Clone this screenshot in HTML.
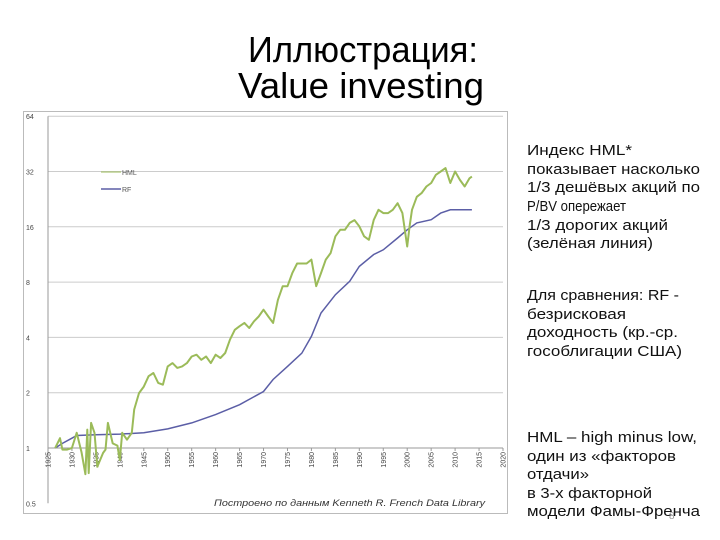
<!DOCTYPE html>
<html><head><meta charset="utf-8"><style>
html,body{margin:0;padding:0;background:#fff;}
svg{display:block;font-family:"Liberation Sans","Noto Sans CJK SC",sans-serif;}
</style></head><body>
<svg id="s" width="720" height="540" viewBox="0 0 720 540">
<g font-size="36" fill="#000" text-anchor="start">
<text x="248" y="62" textLength="230" lengthAdjust="spacingAndGlyphs">Иллюстрация:</text>
<text x="238" y="98" textLength="246" lengthAdjust="spacingAndGlyphs">Value investing</text>
</g>
<rect x="23.5" y="111.5" width="484" height="402" fill="#fff" stroke="#bbb"/>
<g id="grid"></g>
<g id="yt" font-size="7" fill="#444"></g>
<g id="xt" font-size="7" fill="#444"></g>
<g id="lines"></g>
<g font-size="7" fill="#555">
<line x1="101" y1="172" x2="121" y2="172" stroke="#9bbb59" stroke-width="1"/>
<text x="122" y="175">HML</text>
<line x1="101" y1="189" x2="121" y2="189" stroke="#5b5ea6" stroke-width="1.5"/>
<text x="122" y="192">RF</text>
</g>
<text x="485" y="506" font-size="9" font-style="italic" fill="#333" text-anchor="end" textLength="271" lengthAdjust="spacingAndGlyphs">Построено по данным Kenneth R. French Data Library</text>
<g font-size="15" fill="#111">
<text x="527" y="155" textLength="105" lengthAdjust="spacingAndGlyphs">Индекс HML*</text>
<text x="527" y="174" textLength="173" lengthAdjust="spacingAndGlyphs">показывает насколько</text>
<text x="527" y="192" textLength="173" lengthAdjust="spacingAndGlyphs">1/3 дешёвых акций по</text>
<text x="527" y="211" textLength="99" lengthAdjust="spacingAndGlyphs">P/BV опережает</text>
<text x="527" y="230" textLength="141" lengthAdjust="spacingAndGlyphs">1/3 дорогих акций</text>
<text x="527" y="248" textLength="126" lengthAdjust="spacingAndGlyphs">(зелёная линия)</text>
<text x="527" y="300" textLength="152" lengthAdjust="spacingAndGlyphs">Для сравнения: RF -</text>
<text x="527" y="319" textLength="99" lengthAdjust="spacingAndGlyphs">безрисковая</text>
<text x="527" y="337" textLength="151" lengthAdjust="spacingAndGlyphs">доходность (кр.-ср.</text>
<text x="527" y="356" textLength="155" lengthAdjust="spacingAndGlyphs">гособлигации США)</text>
<text x="527" y="442" textLength="170" lengthAdjust="spacingAndGlyphs">HML – high minus low,</text>
<text x="527" y="461" textLength="149" lengthAdjust="spacingAndGlyphs">один из «факторов</text>
<text x="527" y="479" textLength="62" lengthAdjust="spacingAndGlyphs">отдачи»</text>
<text x="527" y="498" textLength="125" lengthAdjust="spacingAndGlyphs">в 3-х факторной</text>
<text x="527" y="516" textLength="173" lengthAdjust="spacingAndGlyphs">модели Фамы-Френча</text>
</g>
<text x="669" y="519" font-size="10" fill="#999">8</text>
</svg>
<script>
const yTicks=[0.5,1,2,4,8,16,32,64];
const yTickLabels=["0.5","1","2","4","8","16","32","64"];
const xTicks=[1925,1930,1935,1940,1945,1950,1955,1960,1965,1970,1975,1980,1985,1990,1995,2000,2005,2010,2015,2020];
const hmlYears=[1926.5,1927.5,1928,1929,1930,1931,1932,1932.8,1933.2,1933.5,1934,1934.7,1935.3,1936.5,1937,1937.5,1938.5,1939.5,1940,1940.5,1941.5,1942.5,1943,1944,1945,1946,1947,1948,1949,1950,1951,1952,1953,1954,1955,1956,1957,1958,1959,1960,1961,1962,1963,1964,1965,1966,1967,1968,1969,1970,1971,1972,1973,1974,1975,1976,1977,1978,1979,1980,1981,1982,1983,1984,1985,1986,1987,1988,1989,1990,1991,1992,1993,1994,1995,1996,1997,1998,1999,2000,2000.5,2001,2002,2003,2004,2005,2006,2007,2008,2009,2010,2011,2012,2013,2013.5];
const hmlValues=[1.0,1.13,0.98,0.98,1.0,1.21,0.95,0.72,1.26,0.73,1.37,1.21,0.79,0.94,0.98,1.37,1.06,1.03,0.86,1.21,1.11,1.21,1.62,1.99,2.16,2.46,2.56,2.26,2.21,2.78,2.9,2.73,2.78,2.9,3.15,3.22,3.02,3.15,2.9,3.22,3.09,3.29,3.89,4.4,4.6,4.8,4.5,4.89,5.2,5.66,5.2,4.8,6.4,7.6,7.6,8.95,10.1,10.1,10.1,10.6,7.6,8.95,10.6,11.5,14.2,15.4,15.4,16.8,17.4,16.1,14.2,13.6,17.4,19.8,19.0,19.0,19.8,21.5,19.0,12.5,16.1,19.8,23.3,24.4,26.5,27.7,30.7,32,33.4,27.7,32,28.8,26.5,29.4,30.0];
const rfYears=[1926.5,1928,1930,1931,1935,1940,1945,1950,1955,1960,1965,1970,1972,1975,1978,1980,1982,1985,1988,1990,1993,1995,1998,2000,2002,2005,2007,2009,2013.5];
const rfValues=[1,1.06,1.13,1.17,1.18,1.19,1.21,1.27,1.37,1.52,1.72,2.03,2.36,2.78,3.28,4.05,5.43,6.83,8.08,9.74,11.3,12.0,13.9,15.4,16.8,17.5,19.0,19.8,19.8];
const NS="http://www.w3.org/2000/svg";
const X0=48,X1=503,Y1=448,PER=55.3;
function xs(y){return X0+(y-1925)*(X1-X0)/95;}
function ys(v){return Y1-Math.log2(v)*PER;}
function mk(t,a,p){const e=document.createElementNS(NS,t);for(const k in a)e.setAttribute(k,a[k]);p.appendChild(e);return e;}
const grid=document.getElementById('grid'),yt=document.getElementById('yt'),xt=document.getElementById('xt'),lines=document.getElementById('lines');
yTicks.forEach((v,i)=>{
 if(v>=1){const l=mk('line',{x1:X0,x2:X1,y1:ys(v),y2:ys(v),stroke:v===1?'#999':'#ccc','stroke-width':1},grid);
 
 }
 const t=mk('text',{x:26,y:ys(v)+3},yt);t.textContent=yTickLabels[i];
 
 
});
const ax=mk('line',{x1:X0,x2:X0,y1:ys(64),y2:ys(0.5),stroke:'#999'},grid);


xTicks.forEach(y=>{
 const x=xs(y);
 const tk=mk('line',{x1:x,x2:x,y1:Y1,y2:Y1+3,stroke:'#999'},grid);
 
 
 const t=mk('text',{x:0,y:0,transform:`translate(${x+2.5},${Y1+4}) rotate(-90)`,'text-anchor':'end'},xt);
 t.textContent=y;
 
 
});
function path(xa,va){return xa.map((y,i)=>(i?'L':'M')+xs(y).toFixed(1)+','+ys(va[i]).toFixed(1)).join('');}
const rf=mk('path',{d:path(rfYears,rfValues),fill:'none',stroke:'#5b5ea6','stroke-width':1.5},lines);


const hml=mk('path',{d:path(hmlYears,hmlValues),fill:'none',stroke:'#9bbb59','stroke-width':2,'stroke-linejoin':'round'},lines);


</script>
</body></html>
